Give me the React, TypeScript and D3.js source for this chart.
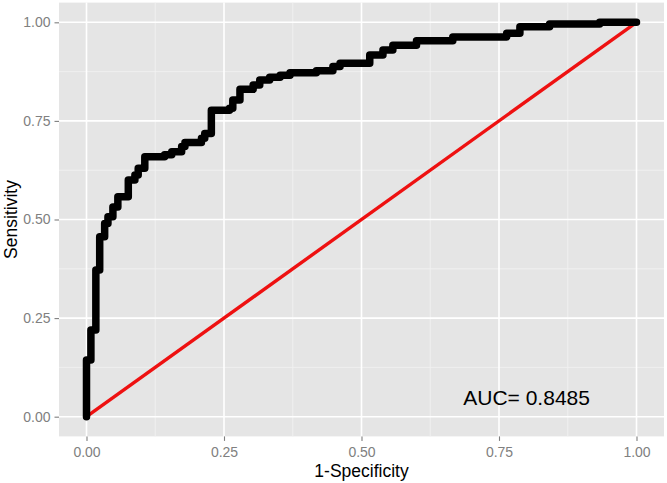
import React from 'react';
import * as d3 from 'd3';

// ROC curve points (1-specificity, sensitivity)
const fpr = [
  0, 0, 0.008, 0.017, 0.024, 0.033, 0.039, 0.048, 0.057, 0.076, 0.088, 0.094,
  0.106, 0.142, 0.155, 0.173, 0.179, 0.209, 0.215, 0.227, 0.26, 0.266, 0.279,
  0.303, 0.315, 0.333, 0.352, 0.37, 0.418, 0.448, 0.461, 0.515, 0.539, 0.557,
  0.6, 0.666, 0.764, 0.788, 0.842, 0.933, 1,
];
const tpr = [
  0, 0.144, 0.22, 0.372, 0.456, 0.49, 0.507, 0.532, 0.558, 0.6, 0.613, 0.63,
  0.659, 0.664, 0.672, 0.685, 0.695, 0.706, 0.718, 0.777, 0.782, 0.803, 0.83,
  0.841, 0.854, 0.861, 0.866, 0.872, 0.877, 0.888, 0.896, 0.917, 0.93, 0.942,
  0.953, 0.963, 0.972, 0.989, 0.996, 1, 1,
];
const ticks = [0, 0.25, 0.5, 0.75, 1];
const minorTicks = [0.125, 0.375, 0.625, 0.875];
const aucLabel = 'AUC= 0.8485';

const W = 667;
const H = 483;
const panel = { left: 59, right: 664, top: 2.6, bottom: 436.4 };

const App: React.FC = () => {
  const svgRef = React.useRef<SVGSVGElement>(null);

  React.useEffect(() => {
    const x = d3
      .scaleLinear()
      .domain([-0.05, 1.05])
      .range([panel.left, panel.right]);
    const y = d3
      .scaleLinear()
      .domain([-0.05, 1.05])
      .range([panel.bottom, panel.top]);

    const svg = d3.select(svgRef.current);
    svg.selectAll('*').remove();
    svg.style('font-family', '"Liberation Sans", Arial, sans-serif');

    // panel background
    svg
      .append('rect')
      .attr('x', panel.left)
      .attr('y', panel.top)
      .attr('width', panel.right - panel.left)
      .attr('height', panel.bottom - panel.top)
      .attr('fill', '#e5e5e5');

    // minor grid
    const grid = svg.append('g');
    minorTicks.forEach((t) => {
      grid
        .append('line')
        .attr('x1', x(t)).attr('x2', x(t))
        .attr('y1', panel.top).attr('y2', panel.bottom)
        .attr('stroke', '#f2f2f2').attr('stroke-width', 0.8);
      grid
        .append('line')
        .attr('x1', panel.left).attr('x2', panel.right)
        .attr('y1', y(t)).attr('y2', y(t))
        .attr('stroke', '#f2f2f2').attr('stroke-width', 0.8);
    });
    // major grid
    ticks.forEach((t) => {
      grid
        .append('line')
        .attr('x1', x(t)).attr('x2', x(t))
        .attr('y1', panel.top).attr('y2', panel.bottom)
        .attr('stroke', '#ffffff').attr('stroke-width', 1.6);
      grid
        .append('line')
        .attr('x1', panel.left).attr('x2', panel.right)
        .attr('y1', y(t)).attr('y2', y(t))
        .attr('stroke', '#ffffff').attr('stroke-width', 1.6);
    });

    // axes
    const fmt = d3.format('.2f');
    const xAxis = svg
      .append('g')
      .attr('transform', `translate(0,${panel.bottom})`)
      .call(d3.axisBottom(x).tickValues(ticks).tickSize(4.5).tickPadding(4).tickFormat((d) => fmt(d as number)));
    const yAxis = svg
      .append('g')
      .attr('transform', `translate(${panel.left},0)`)
      .call(d3.axisLeft(y).tickValues(ticks).tickSize(4.5).tickPadding(4).tickFormat((d) => fmt(d as number)));
    [xAxis, yAxis].forEach((g) => {
      g.select('.domain').remove();
      g.selectAll('line').attr('stroke', '#7f7f7f').attr('stroke-width', 1.1);
      g.selectAll('text')
        .attr('fill', '#808080')
        .attr('font-size', '14px')
        .attr('font-family', '"Liberation Sans", Arial, sans-serif');
    });
    xAxis.selectAll('text').attr('dy', null).attr('y', 20.5);
    yAxis.selectAll('text').attr('x', -8.5);

    // diagonal reference line
    svg
      .append('path')
      .attr('d', d3.line()([[x(0), y(0)], [x(1), y(1)]]))
      .attr('stroke', '#ee1111')
      .attr('stroke-width', 3.4)
      .attr('fill', 'none');

    // ROC curve
    const pts: [number, number][] = fpr.map((f, i) => [x(f), y(tpr[i])]);
    const line = d3.line().curve(d3.curveStepAfter);
    svg
      .append('path')
      .attr('d', line(pts))
      .attr('fill', 'none')
      .attr('stroke', '#000')
      .attr('stroke-width', 7.5)
      .attr('stroke-linejoin', 'round')
      .attr('stroke-linecap', 'round');

    // AUC label
    svg
      .append('text')
      .attr('x', x(0.685))
      .attr('y', y(0.03))
      .attr('font-size', '21px')
      .attr('fill', '#000')
      .text(aucLabel);

    // axis titles
    svg
      .append('text')
      .attr('x', (panel.left + panel.right) / 2)
      .attr('y', 477)
      .attr('text-anchor', 'middle')
      .attr('font-size', '17.5px')
      .attr('fill', '#000')
      .text('1-Specificity');
    svg
      .append('text')
      .attr('transform', `translate(16.5,${(panel.top + panel.bottom) / 2}) rotate(-90)`)
      .attr('text-anchor', 'middle')
      .attr('font-size', '17.5px')
      .attr('fill', '#000')
      .text('Sensitivity');
  }, []);

  return (
    <svg
      ref={svgRef}
      width={W}
      height={H}
      style={{ position: 'absolute', left: 0, top: 0, background: '#fff' }}
    />
  );
};

export default App;
